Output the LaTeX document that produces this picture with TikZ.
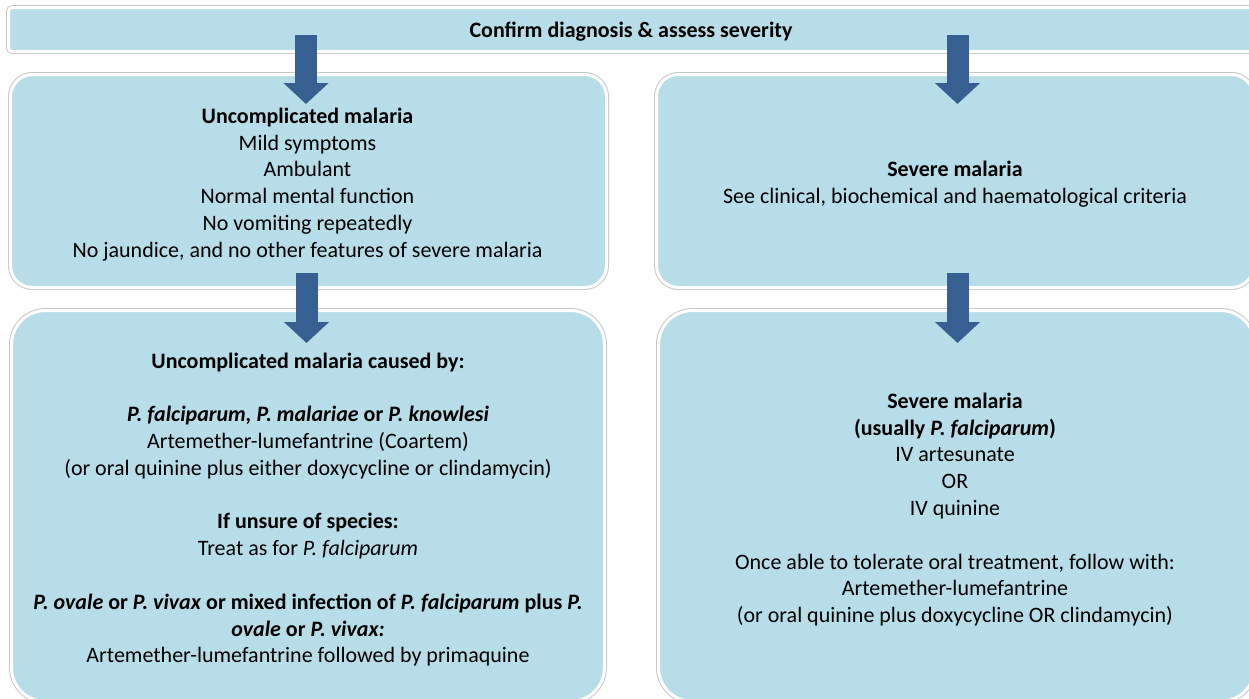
\documentclass[tikz,border=0pt]{standalone}
\usepackage{fontspec}
\setmainfont{Carlito}
\usepackage{xcolor}
\usetikzlibrary{positioning,calc,arrows.meta}
\definecolor{boxblue}{HTML}{B7DDE8}
\definecolor{arrowblue}{HTML}{376092}
\definecolor{edgegrey}{HTML}{C8C8C8}

\begin{document}
\begin{tikzpicture}[x=0.5pt,y=-0.5pt,
    panel/.style={fill=boxblue, draw=white, line width=1.5pt,
        preaction={draw=edgegrey, line width=2.5pt},
        outer sep=0pt, inner sep=0pt},
    paneltext/.style={align=center, inner sep=0pt,
        font=\fontsize{11}{13.4}\selectfont},
    bigarrow/.style={draw=arrowblue, line width=11pt,
        -{Triangle[width=22pt,length=10.5pt]}}]
\useasboundingbox (0,0) rectangle (1249,698);
\fill[white] (0,0) rectangle (1249,698);

% boxes
\node[panel, rounded corners=2pt, minimum width=622.5pt, minimum height=22pt]
    (confirm) at (631,29.5) {};
\node[panel, rounded corners=11pt, minimum width=298pt, minimum height=106.5pt]
    (uncompl) at (308.5,181) {};
\node[panel, rounded corners=11pt, minimum width=298.5pt, minimum height=106.5pt]
    (severe) at (955,181) {};
\node[panel, rounded corners=17pt, minimum width=296.5pt, minimum height=195.5pt]
    (uncompltx) at (308,506) {};
\node[panel, rounded corners=17pt, minimum width=298pt, minimum height=195.5pt]
    (severetx) at (956.5,506) {};

% texts
\node[paneltext] (confirm-t) at ($(confirm)+(0,2)$)
    {\textbf{Confirm diagnosis \& assess severity}};
\node[paneltext] (uncompl-t) at ($(uncompl)+(-1,3.5)$) {\textbf{Uncomplicated malaria}\\
    Mild symptoms\\
    Ambulant\\
    Normal mental function\\
    No vomiting repeatedly\\
    No jaundice, and no other features of severe malaria};
\node[paneltext] (severe-t) at ($(severe)+(0,3.5)$) {\textbf{Severe malaria}\\
    See clinical, biochemical and haematological criteria};
\node[paneltext] (uncompltx-t) at ($(uncompltx)+(0,3.5)$) {\textbf{Uncomplicated malaria caused by:}\\[13.4pt]
    \textbf{\textit{P. falciparum, P. malariae} or \textit{P. knowlesi}}\\
    Artemether-lumefantrine (Coartem)\\
    (or oral quinine plus either doxycycline or clindamycin)\\[13.4pt]
    \textbf{If unsure of species:}\\
    Treat as for \textit{P. falciparum}\\[13.4pt]
    \textbf{\textit{P. ovale} or \textit{P. vivax} or mixed infection of \textit{P. falciparum} plus \textit{P.}}\\
    \textbf{\textit{ovale} or \textit{P. vivax:}}\\
    Artemether-lumefantrine followed by primaquine};
\node[paneltext] (severetx-t) at ($(severetx)+(-1.5,3.5)$) {\textbf{Severe malaria}\\
    \textbf{(usually \textit{P. falciparum})}\\
    IV artesunate\\
    OR\\
    IV quinine\\[13.4pt]
    Once able to tolerate oral treatment, follow with:\\
    Artemether-lumefantrine\\
    (or oral quinine plus doxycycline OR clindamycin)};

% block arrows
\draw[bigarrow] ($(confirm.south -| uncompl.north)+(-2.5,-16.5)$) -- ($(uncompl.north)+(-2.5,29.5)$);
\draw[bigarrow] ($(confirm.south -| severe.north)+(2.5,-16.5)$) -- ($(severe.north)+(2.5,29.5)$);
\draw[bigarrow] ($(uncompl.south)+(-2,-14.5)$) -- ($(uncompltx.north -| uncompl.south)+(-2,32.5)$);
\draw[bigarrow] ($(severe.south)+(2.5,-14.5)$) -- ($(severetx.north -| severe.south)+(2.5,32.5)$);
\end{tikzpicture}
\end{document}
